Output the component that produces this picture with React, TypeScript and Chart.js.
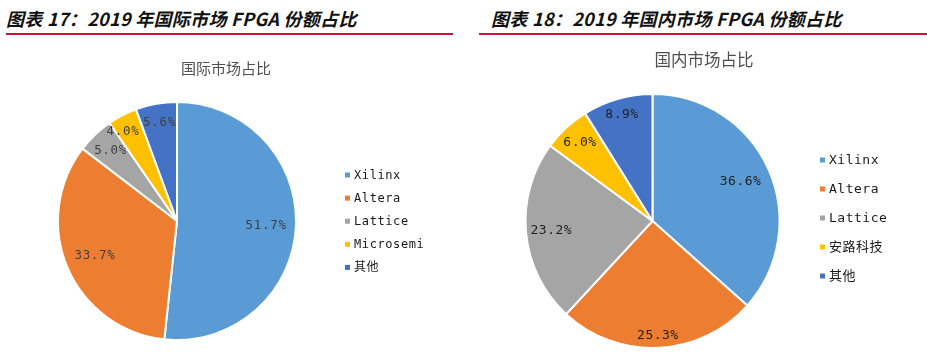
import React, { useEffect, useRef } from "react";
import { Chart, registerables } from "chart.js";

Chart.register(...registerables);

// ---- data ----
const intlTitle = "国际市场占比";
const intlLabels = ["Xilinx", "Altera", "Lattice", "Microsemi", "其他"];
const intlValues = [51.7, 33.7, 5.0, 4.0, 5.6];

const domTitle = "国内市场占比";
const domLabels = ["Xilinx", "Altera", "Lattice", "安路科技", "其他"];
const domValues = [36.6, 25.3, 23.2, 6.0, 8.9];

const sliceColors = ["#5B9BD5", "#ED7D31", "#A5A5A5", "#FFC000", "#4472C4"];

const header1 = "图表 17：2019 年国际市场 FPGA 份额占比";
const header2 = "图表 18：2019 年国内市场 FPGA 份额占比";

// ---- styling / layout ----
type Style = {
  width: number;
  height: number;
  padding: { left: number; right: number; top: number; bottom: number };
  titleFont: string;
  titleX: number;
  titleY: number;
  labelFont: string;
  labelColor: string;
  labelSpacing: string;
  labelRadius: number[];
  labelShift: number[];
  legendX: number;
  legendY: number;
  legendGap: number;
  legendFont: string;
  legendSpacing: string;
  legendBox: number;
};

const leftStyle: Style = {
  width: 465,
  height: 316,
  padding: { left: 57, right: 168, top: 61, bottom: 15 },
  titleFont: "15px 'Noto Sans CJK SC'",
  titleX: 226,
  titleY: 28,
  labelFont: "12.5px 'DejaVu Sans Mono'",
  labelColor: "#404040",
  labelSpacing: "0.7px",
  labelRadius: [0.75, 0.75, 0.81, 0.84, 0.84],
  labelShift: [0, 0, 0, -8, 0],
  legendX: 345,
  legendY: 135,
  legendGap: 23.1,
  legendFont: "12px 'DejaVu Sans Mono', 'Noto Sans CJK SC'",
  legendSpacing: "0.6px",
  legendBox: 5,
};

const rightStyle: Style = {
  width: 462,
  height: 316,
  padding: { left: 59, right: 146, top: 53, bottom: 7 },
  titleFont: "16.5px 'Noto Sans CJK SC'",
  titleX: 239,
  titleY: 20,
  labelFont: "13px 'DejaVu Sans Mono'",
  labelColor: "#1f1f1f",
  labelSpacing: "0.5px",
  labelRadius: [0.76, 0.9, 0.8, 0.84, 0.87],
  labelShift: [0, 0, 0, 0, 0],
  legendX: 355,
  legendY: 120,
  legendGap: 29,
  legendFont: "13px 'DejaVu Sans Mono', 'Noto Sans CJK SC'",
  legendSpacing: "0.5px",
  legendBox: 5,
};

function makeOverlay(title: string, st: Style) {
  return {
    id: "overlay",
    afterDraw(chart: any) {
      const ctx = chart.ctx as CanvasRenderingContext2D;
      const meta = chart.getDatasetMeta(0);
      const values = chart.data.datasets[0].data as number[];
      const colors = chart.data.datasets[0].backgroundColor as string[];
      const labels = chart.data.labels as string[];
      ctx.save();
      // chart title
      ctx.font = st.titleFont;
      ctx.fillStyle = "#505050";
      ctx.textAlign = "center";
      ctx.textBaseline = "middle";
      (ctx as any).letterSpacing = "0px";
      ctx.fillText(title, st.titleX, st.titleY);

      // data labels
      ctx.font = st.labelFont;
      ctx.fillStyle = st.labelColor;
      (ctx as any).letterSpacing = st.labelSpacing;
      meta.data.forEach((arc: any, i: number) => {
        const p = arc.getProps(["x", "y", "startAngle", "endAngle", "outerRadius"], true);
        const mid = (p.startAngle + p.endAngle) / 2;
        const r = p.outerRadius * st.labelRadius[i];
        ctx.fillText(
          values[i].toFixed(1) + "%",
          p.x + Math.cos(mid) * r + st.labelShift[i],
          p.y + Math.sin(mid) * r
        );
      });

      // legend
      ctx.textAlign = "left";
      ctx.font = st.legendFont;
      (ctx as any).letterSpacing = st.legendSpacing;
      labels.forEach((lab, i) => {
        const y = st.legendY + i * st.legendGap;
        ctx.fillStyle = colors[i];
        ctx.fillRect(st.legendX, y - st.legendBox / 2, st.legendBox, st.legendBox);
        ctx.fillStyle = "#1a1a1a";
        ctx.fillText(lab, st.legendX + st.legendBox + 4, y + 0.5);
      });
      ctx.restore();
    },
  };
}

function PieChart(props: { title: string; labels: string[]; values: number[]; st: Style }) {
  const ref = useRef<HTMLCanvasElement | null>(null);
  useEffect(() => {
    if (!ref.current) return;
    const chart = new Chart(ref.current, {
      type: "pie",
      data: {
        labels: props.labels,
        datasets: [
          {
            data: props.values,
            backgroundColor: sliceColors,
            borderColor: "#ffffff",
            borderWidth: 2,
          },
        ],
      },
      options: {
        animation: false,
        responsive: true,
        maintainAspectRatio: false,
        devicePixelRatio: 1,
        layout: { padding: props.st.padding },
        plugins: {
          legend: { display: false },
          tooltip: { enabled: false },
          title: { display: false },
        },
      } as any,
      plugins: [makeOverlay(props.title, props.st)],
    });
    return () => chart.destroy();
  }, []);
  return (
    <div style={{ width: props.st.width, height: props.st.height, position: "relative" }}>
      <canvas ref={ref} />
    </div>
  );
}

const headerStyle: React.CSSProperties = {
  position: "absolute",
  top: 6,
  fontFamily: "'Noto Sans CJK SC', sans-serif",
  fontStyle: "italic",
  fontWeight: 700,
  fontSize: 18,
  letterSpacing: "0.3px",
  lineHeight: "24px",
  color: "#111",
  whiteSpace: "nowrap",
};

export default function App() {
  return (
    <div
      style={{
        position: "absolute",
        left: 0,
        top: 0,
        width: 927,
        height: 356,
        background: "#fff",
        overflow: "hidden",
      }}
    >
      <div style={{ ...headerStyle, left: 6 }}>{header1}</div>
      <div style={{ position: "absolute", left: 6, top: 33, width: 447, height: 2, background: "#D0103A" }} />
      <div style={{ ...headerStyle, left: 491 }}>{header2}</div>
      <div style={{ position: "absolute", left: 479, top: 33, width: 448, height: 2, background: "#D0103A" }} />
      <div style={{ position: "absolute", left: 0, top: 40 }}>
        <PieChart title={intlTitle} labels={intlLabels} values={intlValues} st={leftStyle} />
      </div>
      <div style={{ position: "absolute", left: 465, top: 40 }}>
        <PieChart title={domTitle} labels={domLabels} values={domValues} st={rightStyle} />
      </div>
    </div>
  );
}
